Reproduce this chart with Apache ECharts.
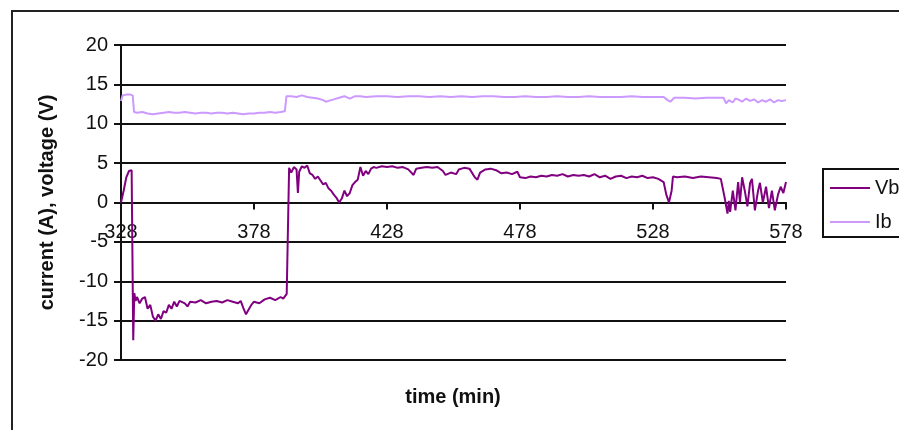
<!DOCTYPE html>
<html>
<head>
<meta charset="utf-8">
<script src="https://cdn.jsdelivr.net/npm/echarts@6/dist/echarts.min.js"></script>
<style>
  html, body { margin: 0; padding: 0; background: #fff; }
  #chart { width: 899px; height: 430px; }
</style>
</head>
<body>
<div id="chart"></div>
<script>
// ---- data ----
const xTicks = [328, 378, 428, 478, 528, 578];
const yTicks = [-20, -15, -10, -5, 0, 5, 10, 15, 20];
const seriesNames = ['Vb', 'Ib'];

const vbTime = [
  328, 329, 330, 331, 332, 332.6, 333, 333.5, 334, 335,
  336, 337, 338, 339, 340, 341, 342, 343, 344, 345,
  346, 347, 348, 349, 350, 352, 353, 354, 356, 358,
  360, 362, 364, 366, 368, 370, 372, 373, 374, 375,
  376, 377, 378, 380, 382, 384, 386, 388, 389, 390.3,
  391.2, 391.6, 392, 393, 394, 394.5, 395, 396, 397, 398,
  399, 400, 401, 402, 403, 404, 405, 406, 407, 408,
  409, 410, 411, 412, 413, 414, 415, 416, 417, 418,
  419, 420, 421, 422, 423, 424, 426, 428, 430, 432,
  434, 436, 438, 439, 441, 443, 445, 447, 449, 450,
  452, 454, 455, 457, 459, 461, 462, 463, 465, 467,
  469, 471, 473, 475, 477, 478, 480, 482, 484, 486,
  488, 490, 492, 494, 496, 498, 500, 502, 504, 506,
  508, 510, 512, 514, 516, 518, 520, 522, 524, 526,
  528, 530, 532, 533, 534, 535, 535.5, 537, 540, 543,
  546, 549, 552, 553.5, 555, 556, 556.5, 557, 558, 559,
  560, 560.7, 561.5, 562.5, 563.5, 564.5, 565.2, 566.3, 567.5, 568.2,
  569.3, 570.5, 571.6, 572.7, 573.8, 575, 576, 577, 578
];
const vbValue = [
  0.0, 1.5, 3.2, 4.0, 4.1, -17.5, -11.5, -12.5, -12.0, -12.8,
  -12.2, -12.0, -13.5, -13.0, -14.5, -15.0, -14.2, -14.8, -13.8, -14.0,
  -13.0, -13.5, -12.6, -13.2, -12.5, -12.8, -13.2, -12.6, -12.7, -12.4,
  -12.8, -12.6, -12.5, -12.7, -12.4, -12.6, -12.8, -12.5, -13.4, -14.2,
  -13.6, -13.0, -12.6, -12.8, -12.3, -12.1, -12.4, -12.0, -12.2, -11.6,
  4.4, 4.6, 3.8, 4.5, 4.2, 1.2, 3.9, 4.6, 4.4, 4.7,
  3.7, 3.5, 3.0, 3.3, 2.8, 2.3, 2.5, 1.8, 1.5, 1.0,
  0.6, 0.0, 0.5, 1.5, 0.8, 1.2, 2.2, 2.6, 2.9, 4.5,
  3.4, 4.0, 3.6, 4.3, 4.5, 4.4, 4.6, 4.5, 4.6, 4.4,
  4.5, 4.2, 3.5, 4.3, 4.4, 4.5, 4.4, 4.5, 4.0, 3.5,
  3.8, 3.6, 4.2, 4.4, 4.3, 3.2, 2.9, 3.8, 4.2, 4.3,
  4.1, 3.7, 3.8, 3.6, 3.9, 3.2, 3.1, 3.3, 3.2, 3.4,
  3.3, 3.5, 3.4, 3.6, 3.3, 3.5, 3.4, 3.5, 3.3, 3.6,
  3.2, 3.4, 3.0, 3.3, 3.4, 3.1, 3.3, 3.2, 3.4, 3.1,
  3.2, 3.0, 2.6, 1.0, 0.0, 1.5, 3.3, 3.2, 3.3, 3.1,
  3.3, 3.2, 3.1, 3.0, 0.5, -1.4, 0.2, -1.2, 1.5, -1.0,
  2.6, 0.0, 3.2, 1.5, -0.5, 2.5, 3.0, -1.0, 1.5, 2.5,
  0.0, 2.0, -0.7, 1.5, -1.0, 1.0, 2.0, 1.2, 2.6
];

const ibTime = [
  328, 328.6, 330, 331.5, 332.4, 332.9, 334, 336, 338, 340,
  342, 344, 346, 348, 350, 352, 354, 356, 358, 360,
  362, 364, 366, 368, 370, 372, 374, 376, 378, 380,
  382, 384, 386, 388, 389.6, 390.2, 392, 394, 396, 398,
  400, 402, 404, 405, 406, 408, 410, 412, 414, 416,
  418, 420, 424, 428, 432, 436, 440, 444, 448, 452,
  456, 460, 464, 468, 472, 476, 480, 484, 488, 492,
  496, 500, 504, 508, 512, 516, 520, 524, 528, 532,
  533.5, 534.5, 536, 540, 544, 548, 552, 554.5, 555.5, 556.5,
  558, 559, 560, 561.5, 563, 564.5, 566, 567.5, 569, 570.5,
  572, 573.5, 575, 576.5, 578
];
const ibValue = [
  12.9, 13.6, 13.7, 13.7, 13.6, 11.5, 11.4, 11.5, 11.3, 11.2,
  11.3, 11.4, 11.5, 11.4, 11.4, 11.5, 11.4, 11.3, 11.4, 11.4,
  11.3, 11.4, 11.4, 11.3, 11.4, 11.3, 11.2, 11.3, 11.3, 11.4,
  11.4, 11.5, 11.4, 11.5, 11.6, 13.5, 13.5, 13.4, 13.6, 13.4,
  13.3, 13.2, 13.0, 12.8, 12.9, 13.1, 13.3, 13.5, 13.2, 13.5,
  13.5, 13.4, 13.5, 13.5, 13.4, 13.5, 13.5, 13.4, 13.5, 13.4,
  13.5, 13.4, 13.5, 13.5, 13.4, 13.4, 13.5, 13.4, 13.4, 13.5,
  13.4, 13.4, 13.5, 13.4, 13.4, 13.4, 13.5, 13.4, 13.4, 13.4,
  13.0, 12.8, 13.3, 13.3, 13.2, 13.3, 13.3, 13.3, 12.6, 13.0,
  12.7, 13.2, 13.1, 12.8, 13.2, 12.9, 13.1, 12.7, 13.0, 12.8,
  13.1, 12.7, 13.0, 12.9, 13.0
];

// ---- build chart ----
const pairs = (t, v) => t.map((x, i) => [x, v[i]]);
const FONT = '"Liberation Sans", Arial, sans-serif';

const GRID_TOP = 45, GRID_BOTTOM = 70, H = 430;
// the time axis sits on the y = 0 line (middle of the symmetric -20..20 range)
const plotH = H - GRID_TOP - GRID_BOTTOM;
const zeroOffset = -plotH * (0 - yTicks[0]) / (yTicks[yTicks.length - 1] - yTicks[0]);

const chart = echarts.init(document.getElementById('chart'), null, { renderer: 'canvas' });
chart.setOption({
  animation: false,
  backgroundColor: '#ffffff',
  textStyle: { fontFamily: FONT },
  grid: { left: 121, right: 113, top: GRID_TOP, bottom: GRID_BOTTOM, containLabel: false },
  graphic: [
    {
      type: 'rect',
      shape: { x: 12, y: 11, width: 1000, height: 1000 },
      style: { fill: 'none', stroke: '#222', lineWidth: 2 },
      z: -1
    },
    {
      type: 'text',
      x: 453, y: 397,
      style: {
        text: 'time (min)', fontFamily: FONT, fontSize: 20, fontWeight: 'bold',
        fill: '#111', textAlign: 'center', textVerticalAlign: 'middle'
      }
    }
  ],
  legend: {
    data: seriesNames,
    orient: 'vertical',
    left: 823, top: 169,
    padding: [8, 60, 4, 7],
    icon: 'rect',
    itemWidth: 40, itemHeight: 2, itemGap: 12,
    borderColor: '#111', borderWidth: 2,
    textStyle: { fontFamily: FONT, fontSize: 20, color: '#111', lineHeight: 22 }
  },
  xAxis: {
    type: 'value',
    position: 'bottom',
    offset: zeroOffset,
    min: xTicks[0], max: xTicks[xTicks.length - 1], interval: 50,
    axisLine: { onZero: false, lineStyle: { color: '#111', width: 2 } },
    axisTick: { show: true, length: 7, lineStyle: { color: '#111', width: 2 } },
    axisLabel: { fontFamily: FONT, fontSize: 20, color: '#111', margin: 20,
                 showMinLabel: true, showMaxLabel: true },
    splitLine: { show: false }
  },
  yAxis: {
    type: 'value',
    min: yTicks[0], max: yTicks[yTicks.length - 1], interval: 5,
    name: 'current (A), voltage (V)',
    nameLocation: 'middle', nameGap: 64,
    nameTextStyle: { fontFamily: FONT, fontSize: 20, fontWeight: 'bold', color: '#111' },
    axisLine: { show: true, onZero: false, lineStyle: { color: '#111', width: 2 } },
    axisTick: { show: true, length: 7, lineStyle: { color: '#111', width: 2 } },
    axisLabel: { fontFamily: FONT, fontSize: 20, color: '#111', margin: 13 },
    splitLine: { show: true, lineStyle: { color: '#111', width: 2 } }
  },
  series: [
    {
      name: seriesNames[0], type: 'line', data: pairs(vbTime, vbValue),
      symbol: 'none', smooth: false,
      lineStyle: { color: '#800080', width: 2 }, itemStyle: { color: '#800080' }, z: 3
    },
    {
      name: seriesNames[1], type: 'line', data: pairs(ibTime, ibValue),
      symbol: 'none', smooth: false,
      lineStyle: { color: '#cc99ff', width: 2 }, itemStyle: { color: '#cc99ff' }, z: 2
    }
  ]
});
</script>
</body>
</html>
